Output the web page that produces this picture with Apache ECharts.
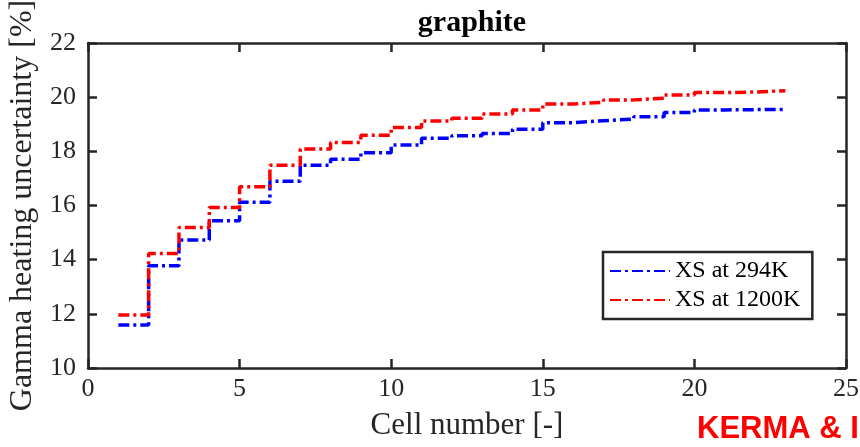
<!DOCTYPE html>
<html>
<head>
<meta charset="utf-8">
<script src="https://cdn.jsdelivr.net/npm/echarts@6/dist/echarts.min.js"></script>
<style>
html,body{margin:0;padding:0;background:#fff;}
#chart{width:860px;height:447px;}
</style>
</head>
<body>
<div id="chart"></div>
<script>
// Cell numbers (stairs: value holds from cell i to i+1; last point closes the final step)
var cells = [1,2,3,4,5,6,7,8,9,10,11,12,13,14,15,16,17,18,19,20,21,22,23];
var xs294 = [11.59,13.78,14.73,15.44,16.12,16.90,17.49,17.71,17.95,18.23,18.48,18.58,18.66,18.82,19.06,19.13,19.19,19.28,19.43,19.53,19.54,19.55,19.55];
var xs1200 = [11.96,14.23,15.19,15.93,16.69,17.49,18.09,18.33,18.59,18.88,19.12,19.22,19.38,19.53,19.75,19.81,19.90,19.96,20.08,20.17,20.19,20.24,20.24];
var seriesNames = ['XS at 294K','XS at 1200K'];
var xTicks = [0,5,10,15,20,25];
var yTicks = [10,12,14,16,18,20,22];
var titleText = 'graphite';
var xLabel = 'Cell number [-]';
var yLabel = 'Gamma heating uncertainty [%]';
var cornerText = 'KERMA & I';

function pairs(vals){ return cells.map(function(c,i){ return [c, vals[i]]; }); }

var serif = 'Liberation Serif, Times New Roman, serif';
var axisColor = '#262626';

var chart = echarts.init(document.getElementById('chart'), null, {renderer:'canvas'});
var baseX = {
  type:'value', min:xTicks[0], max:xTicks[xTicks.length-1], interval:5,
  axisLine:{show:true, onZero:false, lineStyle:{color:axisColor, width:2.5}},
  axisTick:{show:true, inside:true, length:9, lineStyle:{color:axisColor, width:2.5}},
  splitLine:{show:false}
};
var baseY = {
  type:'value', min:yTicks[0], max:yTicks[yTicks.length-1], interval:2,
  axisLine:{show:true, onZero:false, lineStyle:{color:axisColor, width:2.5}},
  axisTick:{show:true, inside:true, length:9, lineStyle:{color:axisColor, width:2.5}},
  splitLine:{show:false}
};
var option = {
  animation:false,
  backgroundColor:'#ffffff',
  title:{
    text:titleText, left:467, top:3, textAlign:'center',
    textStyle:{fontFamily:serif, fontSize:30, fontWeight:'bold', color:'#000'}
  },
  grid:{left:88, right:14, top:43, bottom:79, containLabel:false, outerBoundsMode:'none'},
  xAxis:[
    Object.assign({}, baseX, {
      position:'bottom',
      axisLabel:{show:true, margin:8, fontFamily:serif, fontSize:26, color:'#262626'},
      name:xLabel, nameLocation:'middle', nameGap:42,
      nameTextStyle:{fontFamily:serif, fontSize:31, color:'#262626'}
    }),
    Object.assign({}, baseX, {position:'top', axisLabel:{show:false}})
  ],
  yAxis:[
    Object.assign({}, baseY, {
      position:'left',
      axisLabel:{show:true, margin:12, fontFamily:serif, fontSize:26, color:'#262626'},
      name:yLabel, nameLocation:'middle', nameGap:49,
      nameTextStyle:{fontFamily:serif, fontSize:32, color:'#262626'}
    }),
    Object.assign({}, baseY, {position:'right', axisLabel:{show:false}})
  ],
  legend:{
    orient:'vertical', left:603, top:252,
    padding:[7,12,7,6], itemGap:5, itemWidth:60, itemHeight:14,
    borderColor:axisColor, borderWidth:2.5, backgroundColor:'#fff',
    itemStyle:{color:'rgba(0,0,0,0)', borderColor:'rgba(0,0,0,0)', borderWidth:0, opacity:0},
    textStyle:{fontFamily:serif, fontSize:24, color:'#000', lineHeight:24},
    data:seriesNames
  },
  series:[
    {
      name:seriesNames[0], type:'line', step:'end', showSymbol:false, symbol:'none',
      xAxisIndex:0, yAxisIndex:0, data:pairs(xs294),
      lineStyle:{color:'#0000ff', width:3.5, type:[11,4,3,4], cap:'butt'},
      itemStyle:{color:'#0000ff'}
    },
    {
      name:seriesNames[1], type:'line', step:'end', showSymbol:false, symbol:'none',
      xAxisIndex:0, yAxisIndex:0, data:pairs(xs1200),
      lineStyle:{color:'#ff0000', width:3.5, type:[11,4,3,4], cap:'butt'},
      itemStyle:{color:'#ff0000'}
    }
  ],
  graphic:[
    {
      type:'text', left:697, top:414,
      style:{text:cornerText, fill:'#ff0000', font:'bold 31px "Liberation Sans", Arial, sans-serif'}
    }
  ]
};
chart.setOption(option);
</script>
</body>
</html>
